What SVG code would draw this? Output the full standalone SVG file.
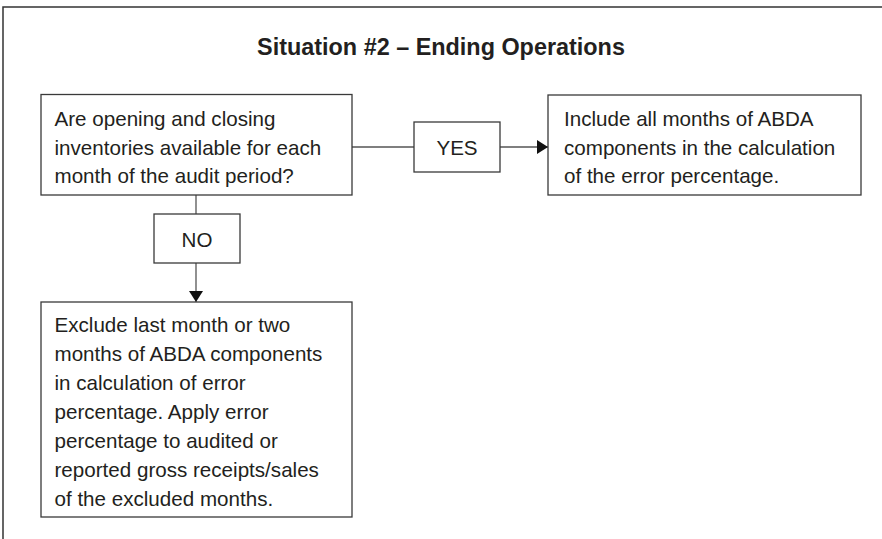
<svg xmlns="http://www.w3.org/2000/svg" width="882" height="539" viewBox="0 0 882 539">
<style>
.box{fill:#fff;stroke:#3a3a3a;stroke-width:1.3}
.t{font-family:"Liberation Sans",Arial,sans-serif;font-size:20.6px;fill:#231f20}
.c{text-anchor:middle}
.title{font-family:"Liberation Sans",Arial,sans-serif;font-size:23.4px;font-weight:bold;fill:#231f20;text-anchor:middle}
.ln{stroke:#555;stroke-width:1.3;fill:none}
</style>
<defs>
<marker id="ah" markerWidth="12" markerHeight="16" refX="11" refY="8" orient="auto" markerUnits="userSpaceOnUse">
<path d="M0,1 L11,8 L0,15 Z" fill="#111"/>
</marker>
</defs>
<rect width="882" height="539" fill="#fff"/>
<path d="M3,539 V7 H882" fill="none" stroke="#333" stroke-width="1.5"/>
<text class="title" x="441" y="55">Situation #2 – Ending Operations</text>
<g id="connectors">
<line class="ln" x1="352" y1="147" x2="414" y2="147"/>
<line class="ln" x1="500" y1="147" x2="548" y2="147" marker-end="url(#ah)"/>
<line class="ln" x1="196" y1="195" x2="196" y2="214"/>
<line class="ln" x1="196" y1="263" x2="196" y2="302" marker-end="url(#ah)"/>
</g>
<g id="question">
<rect class="box" x="41" y="94.5" width="311" height="100.5"/>
<text class="t" x="54.5" y="126">Are opening and closing</text>
<text class="t" x="54.5" y="154.5">inventories available for each</text>
<text class="t" x="54.5" y="183">month of the audit period?</text>
</g>
<g id="yes">
<rect class="box" x="414" y="122" width="86" height="50"/>
<text class="t c" x="457" y="154.5">YES</text>
</g>
<g id="include">
<rect class="box" x="548" y="95" width="313" height="100"/>
<text class="t" x="564" y="126">Include all months of ABDA</text>
<text class="t" x="564" y="154.5">components in the calculation</text>
<text class="t" x="564" y="183">of the error percentage.</text>
</g>
<g id="no">
<rect class="box" x="154" y="214" width="86" height="49"/>
<text class="t c" x="197" y="246.5">NO</text>
</g>
<g id="exclude">
<rect class="box" x="41" y="302" width="311" height="215"/>
<text class="t" x="54.5" y="332">Exclude last month or two</text>
<text class="t" x="54.5" y="361">months of ABDA components</text>
<text class="t" x="54.5" y="390">in calculation of error</text>
<text class="t" x="54.5" y="419">percentage. Apply error</text>
<text class="t" x="54.5" y="448">percentage to audited or</text>
<text class="t" x="54.5" y="477">reported gross receipts/sales</text>
<text class="t" x="54.5" y="506">of the excluded months.</text>
</g>
</svg>
